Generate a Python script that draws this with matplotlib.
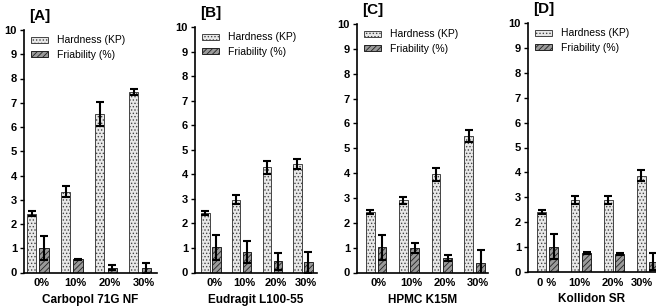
import matplotlib
matplotlib.use("Agg")
import matplotlib.pyplot as plt
import numpy as np

plt.rcParams['font.family'] = ['Liberation Sans', 'DejaVu Sans']
plt.rcParams['hatch.linewidth'] = 0.6

conc_labels = ["0%", "10%", "20%", "30%"]
conc_labels_d = ["0 %", "10%", "20%", "30%"]
panel_titles = ["[A]", "[B]", "[C]", "[D]"]
polymers = ["Carbopol 71G NF", "Eudragit L100-55", "HPMC K15M", "Kollidon SR"]

hard_A = [2.42, 3.33, 6.55, 7.45]
hard_A_err = [0.10, 0.22, 0.50, 0.12]
fri_A = [1.02, 0.55, 0.20, 0.20]
fri_A_err = [0.50, 0.02, 0.10, 0.20]

hard_B = [2.43, 2.97, 4.28, 4.42]
hard_B_err = [0.08, 0.17, 0.25, 0.20]
fri_B = [1.02, 0.82, 0.45, 0.42]
fri_B_err = [0.50, 0.45, 0.35, 0.42]

hard_C = [2.42, 2.90, 3.95, 5.50]
hard_C_err = [0.08, 0.13, 0.27, 0.25]
fri_C = [1.02, 0.98, 0.58, 0.40]
fri_C_err = [0.50, 0.20, 0.12, 0.50]

hard_D = [2.42, 2.90, 2.90, 3.87]
hard_D_err = [0.08, 0.15, 0.17, 0.22]
fri_D = [1.02, 0.77, 0.73, 0.42]
fri_D_err = [0.50, 0.05, 0.03, 0.33]

panels = [
    (hard_A, hard_A_err, fri_A, fri_A_err),
    (hard_B, hard_B_err, fri_B, fri_B_err),
    (hard_C, hard_C_err, fri_C, fri_C_err),
    (hard_D, hard_D_err, fri_D, fri_D_err),
]

W, H = 656, 307
fig = plt.figure(figsize=(W / 100, H / 100), dpi=100)

# axes rects in pixels: left, top(y of 10), right, bottom(y of 0)
rects = [(24, 30, 157, 272.5), (195, 27, 317, 272.5), (357, 24, 488, 272.5), (528, 23, 656, 272)]
xlims = [(-0.41, 3.5), (-0.52, 3.46), (-0.58, 3.4), (-0.6, 3.27)]
tick_off = [0.1, 0.1, 0.08, -0.05]

bw = 0.27
off = 0.18
x = np.arange(4)

for i, (hd, he, fr, fe) in enumerate(panels):
    l, t, r, b = rects[i]
    hpx = b - t
    ax = fig.add_axes([l / W, 1 - b / H, (r - l) / W, hpx / H])
    ax.bar(x - off, hd, bw, yerr=he, color='#e8e8e8', edgecolor='#444444', hatch='.....',
           linewidth=0.7, label='Hardness (KP)',
           error_kw=dict(ecolor='black', elinewidth=1.5, capsize=3, capthick=1.5))
    ax.bar(x + off, fr, bw, yerr=fe, color='#9a9a9a', edgecolor='#222222', hatch='//////',
           linewidth=0.7, label='Friability (%)',
           error_kw=dict(ecolor='black', elinewidth=1.5, capsize=3, capthick=1.5))
    ax.set_ylim(0, 10)
    ax.set_xlim(*xlims[i])
    ax.set_yticks(range(0, 11))
    ticks = x + tick_off[i]
    if i == 3:
        ticks = ticks.copy()
        ticks[3] -= 0.12
    ax.set_xticks(ticks)
    ax.set_xticklabels(conc_labels_d if i == 3 else conc_labels)
    ax.tick_params(axis='x', length=0, labelsize=8, pad=4)
    ax.tick_params(axis='y', length=3, width=1, labelsize=8, pad=2)
    for lab in ax.get_xticklabels() + ax.get_yticklabels():
        lab.set_fontweight('bold')
    ax.spines['top'].set_visible(False)
    ax.spines['right'].set_visible(False)
    ax.spines['left'].set_linewidth(1.2)
    ax.spines['bottom'].set_linewidth(1.2)
    ax.set_xlabel(polymers[i], fontsize=8.5, fontweight='bold', labelpad=4)
    ax.set_title(panel_titles[i], fontsize=11, fontweight='bold', loc='left', pad=7,
                 x=0.04)
    ax.legend(loc='upper left', bbox_to_anchor=(0.0, 1.0 + 2 / hpx), frameon=False,
              fontsize=7.5, handlelength=1.6, handleheight=0.5, borderpad=0.2,
              labelspacing=0.45, handletextpad=0.9)

fig.savefig('out.png', dpi=100)
